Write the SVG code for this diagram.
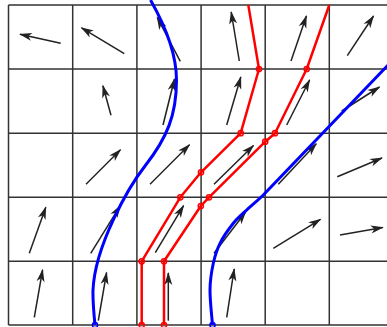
<svg xmlns="http://www.w3.org/2000/svg" width="387" height="327" viewBox="0 0 387 327">
<style>
.grid{stroke:#333;stroke-width:1.5;fill:none}
.vec{stroke:#222;stroke-width:1.5;fill:none;marker-end:url(#ah)}
.blue{stroke:#0000ff;stroke-width:3;fill:none}
.red{stroke:#ff0000;stroke-width:2.5;fill:none;stroke-linejoin:round}
.rn{fill:none;stroke:#ff0000;stroke-width:1.5}
.bn{fill:none;stroke:#0000ff;stroke-width:1.5}
</style>
<defs>
<marker id="ah" markerUnits="userSpaceOnUse" orient="auto" markerWidth="14" markerHeight="10" refX="0" refY="0" viewBox="-13 -5 14 10" overflow="visible">
<path d="M1,0 L-12,-4 L-8.5,0 L-12,4 Z" fill="#222"/>
</marker>
</defs>
<rect width="387" height="327" fill="#fff"/>
<g id="grid" class="grid">
<path d="M8.5,5V325M72.7,5V325M136.9,5V325M201.1,5V325M265.2,5V325M329.3,5V325"/>
<path d="M8.5,5H387M8.5,69H387M8.5,133.2H387M8.5,197.3H387M8.5,261.3H387M8.5,325H387"/>
</g>
<g id="field">
<line class="vec" x1="60.7" y1="43.3" x2="20" y2="34.2"/>
<line class="vec" x1="124.3" y1="53.7" x2="81.5" y2="27.8"/>
<line class="vec" x1="180.3" y1="61.3" x2="157.2" y2="17.5"/>
<line class="vec" x1="239.3" y1="61" x2="231.2" y2="12"/>
<line class="vec" x1="291" y1="61" x2="306.4" y2="16"/>
<line class="vec" x1="347.3" y1="55.7" x2="373.5" y2="16"/>
<line class="vec" x1="111" y1="115.3" x2="102.9" y2="85.8"/>
<line class="vec" x1="163" y1="125" x2="174.5" y2="79"/>
<line class="vec" x1="226.7" y1="125" x2="240.8" y2="77"/>
<line class="vec" x1="286.7" y1="125" x2="309.6" y2="80"/>
<line class="vec" x1="341.7" y1="111" x2="379.5" y2="87"/>
<line class="vec" x1="86" y1="184.3" x2="120.5" y2="149.8"/>
<line class="vec" x1="150" y1="184.3" x2="189.5" y2="144.8"/>
<line class="vec" x1="214" y1="184.3" x2="253.5" y2="145.5"/>
<line class="vec" x1="278.3" y1="184.3" x2="316.3" y2="143.8"/>
<line class="vec" x1="337.3" y1="176.7" x2="382" y2="158"/>
<line class="vec" x1="29.3" y1="253.3" x2="45.8" y2="207.3"/>
<line class="vec" x1="90.7" y1="253.3" x2="120.3" y2="205.7"/>
<line class="vec" x1="155.3" y1="252.7" x2="183.6" y2="205.7"/>
<line class="vec" x1="214" y1="253.3" x2="245.5" y2="212.3"/>
<line class="vec" x1="273.3" y1="248.3" x2="320.5" y2="219.3"/>
<line class="vec" x1="340" y1="235" x2="382.8" y2="227.4"/>
<line class="vec" x1="34.3" y1="317.3" x2="42.6" y2="269.8"/>
<line class="vec" x1="98.3" y1="320.7" x2="106.6" y2="272.5"/>
<line class="vec" x1="168.3" y1="320.7" x2="168.3" y2="273"/>
<line class="vec" x1="226.7" y1="317.3" x2="234.2" y2="269"/>
</g>
<g id="red-left">
<polyline class="red" points="141.7,325 141.7,261.3 180.3,197.3 201,172.3 240.7,133.2 259,69 248.3,5"/>
<circle class="rn" cx="141.7" cy="325" r="2.6"/>
<circle class="rn" cx="141.7" cy="261.3" r="2.6"/>
<circle class="rn" cx="180.3" cy="197.3" r="2.6"/>
<circle class="rn" cx="201" cy="172.3" r="2.6"/>
<circle class="rn" cx="240.7" cy="133.2" r="2.6"/>
<circle class="rn" cx="259" cy="69" r="2.6"/>
</g>
<g id="red-right">
<polyline class="red" points="164,325 164,261.3 200.8,206 209,197.3 265.2,141.7 275,133.2 306.7,69 329.3,5"/>
<circle class="rn" cx="164" cy="325" r="2.6"/>
<circle class="rn" cx="164" cy="261.3" r="2.6"/>
<circle class="rn" cx="200.8" cy="206" r="2.6"/>
<circle class="rn" cx="209" cy="197.3" r="2.6"/>
<circle class="rn" cx="265.2" cy="141.7" r="2.6"/>
<circle class="rn" cx="275" cy="133.2" r="2.6"/>
<circle class="rn" cx="306.7" cy="69" r="2.6"/>
</g>
<g id="blue-left">
<path class="blue" d="M150.5,0 C163,22 176.5,50 176.5,80 C176.5,115 167,138 145,166 C129,186.4 95,245 93,290 C92.7,300 94,315 95,325"/>
<circle class="bn" cx="95" cy="325" r="2.6"/>
</g>
<g id="blue-right">
<path class="blue" d="M212.5,325 C212.1,319.2 209.9,300.3 210,290 C210.1,279.7 211.6,271.1 213.3,263.3 C215,255.5 216.7,250 220,243.3 C223.3,236.6 228.9,228.9 233.3,223.3 C237.8,217.8 241.7,214.7 246.7,210 C251.7,205.3 255,203 263.3,195 L390,63"/>
<circle class="bn" cx="212.5" cy="325" r="2.6"/>
</g>
</svg>
